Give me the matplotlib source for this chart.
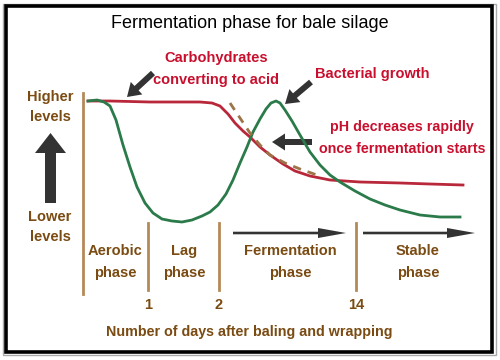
import matplotlib.pyplot as plt
from matplotlib.patches import Rectangle

# layout units = pixels of a 500x360 picture (y grows downwards)
carb_x = [88, 110, 150, 200, 212, 220, 228, 235, 243, 250, 260, 270, 283, 295, 310, 330, 360, 400, 430, 463]
carb_y = [101, 101, 102, 102, 103, 106, 114, 123, 131, 137, 147, 155, 164, 171, 176, 180, 182, 183, 184, 185]

bact_x = [88, 97, 104, 110, 116, 123, 130, 137, 145, 153, 162, 172, 182, 192, 202, 210, 218, 226, 233, 240,
          247, 253, 260, 266, 271, 276, 280, 285, 292, 300, 310, 320, 330, 340, 355, 370, 385, 400, 420, 440, 460]
bact_y = [101, 100, 102, 106, 120, 145, 167, 187, 203, 213, 219, 221, 222, 220, 216, 212, 205, 194, 180, 163,
          147, 132, 119, 109, 103, 101, 103, 110, 121, 135, 152, 165, 175, 182, 191, 199, 205, 210, 215, 217, 217]

ph_x = [230, 240, 250, 260, 270, 285, 300, 317]
ph_y = [103, 118, 133, 145, 155, 163, 169, 175]

day_pos = [148, 219, 356]
day_labels = ['1', '2', '14']

phase_pos = [115, 184, 290, 418]
phase_labels = ['Aerobic\nphase', 'Lag\nphase', 'Fermentation\nphase', 'Stable\nphase']

RED = '#c8102e'
CURVE_RED = '#b8283a'
GREEN = '#2a7a4a'
BROWN = '#7a4b12'
TAN = '#b48a58'
DASH = '#9c7448'
DARK = '#333333'

plt.rcParams['font.family'] = ['Liberation Sans', 'DejaVu Sans']

fig = plt.figure(figsize=(5, 3.6), dpi=100)
ax = fig.add_axes([0, 0, 1, 1])
ax.set_xlim(0, 500)
ax.set_ylim(360, 0)
ax.axis('off')

# frame
ax.add_patch(Rectangle((2.5, 3.5), 493, 351, fill=False, ec='#aaaaaa', lw=1.0))
ax.add_patch(Rectangle((5.5, 5.5), 486, 346, fill=False, ec='black', lw=2.6))

ax.text(250, 24, 'Fermentation phase for bale silage', fontsize=13, ha='center', va='center')

# curves
ax.plot(carb_x, carb_y, color=CURVE_RED, lw=2)
ax.plot(bact_x, bact_y, color=GREEN, lw=2)
ax.plot(ph_x, ph_y, color=DASH, lw=2, ls=(0, (3, 2.5)))

# axis line and phase dividers
ax.plot([83, 83], [93, 294], color=TAN, lw=2)
for p in day_pos:
    ax.plot([p, p], [223, 290], color=TAN, lw=2)
for p, lab in zip(day_pos, day_labels):
    ax.text(p, 305, lab, color=BROWN, fontsize=10.5, fontweight='bold', ha='center', va='center')
for p, lab in zip(phase_pos, phase_labels):
    ax.text(p, 262, lab, color=BROWN, fontsize=10.5, fontweight='bold', ha='center', va='center',
            linespacing=1.65)

ax.text(249, 332, 'Number of days after baling and wrapping', color=BROWN, fontsize=10.3,
        fontweight='bold', ha='center', va='center')
ax.text(50, 107, 'Higher\nlevels', color=BROWN, fontsize=10.5, fontweight='bold', ha='center',
        va='center', linespacing=1.6)
ax.text(50, 227, 'Lower\nlevels', color=BROWN, fontsize=10.5, fontweight='bold', ha='center',
        va='center', linespacing=1.6)

# arrows
ax.arrow(50.5, 203, 0, -70, width=11, head_width=31, head_length=20, length_includes_head=True,
         color=DARK, lw=0)
ax.arrow(233, 233, 113, 0, width=2.6, head_width=10, head_length=28, length_includes_head=True,
         color=DARK, lw=0)
ax.arrow(363, 233, 112, 0, width=2.6, head_width=10, head_length=28, length_includes_head=True,
         color=DARK, lw=0)
ax.arrow(153, 73, -26, 24, width=6, head_width=17, head_length=13, length_includes_head=True,
         color=DARK, lw=0)
ax.arrow(311, 82, -26, 22, width=6, head_width=17, head_length=13, length_includes_head=True,
         color=DARK, lw=0)
ax.arrow(312, 142, -40, 0, width=6, head_width=17, head_length=13, length_includes_head=True,
         color=DARK, lw=0)

# annotations
ax.text(216, 69, 'Carbohydrates\nconverting to acid', color=RED, fontsize=10.5, fontweight='bold',
        ha='center', va='center', linespacing=1.65)
ax.text(372, 74, 'Bacterial growth', color=RED, fontsize=10.5, fontweight='bold', ha='center',
        va='center')
ax.text(402, 138, 'pH decreases rapidly\nonce fermentation starts', color=RED, fontsize=10.3,
        fontweight='bold', ha='center', va='center', linespacing=1.65)

fig.savefig('out.png', dpi=100)
